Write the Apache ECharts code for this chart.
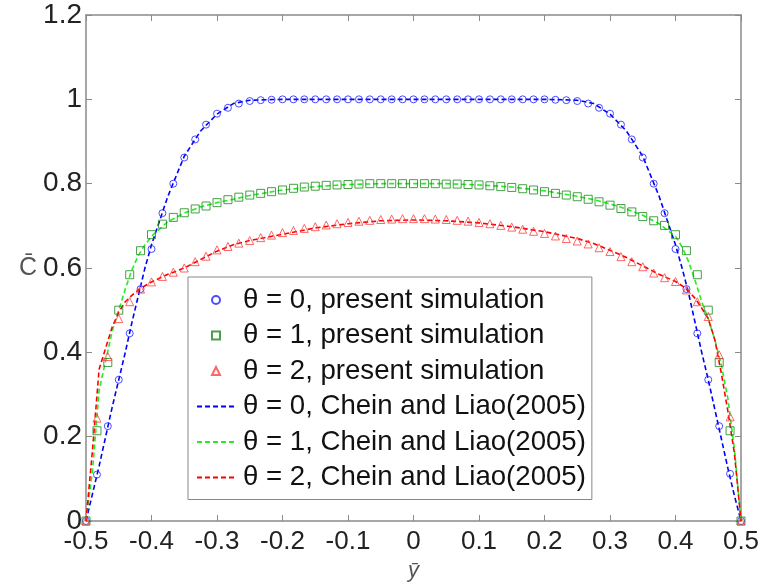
<!DOCTYPE html>
<html>
<head>
<meta charset="utf-8">
<script src="https://cdn.jsdelivr.net/npm/echarts@6/dist/echarts.min.js"></script>
<style>html,body{margin:0;padding:0;background:#fff}#c{width:763px;height:585px}</style>
</head>
<body>
<div id="c"></div>
<script>
// x positions of the simulation markers (y-bar)
var ySim = [-0.5,-0.4833,-0.4667,-0.45,-0.4333,-0.4167,-0.4,-0.3833,-0.3667,-0.35,
  -0.3333,-0.3167,-0.3,-0.2833,-0.2667,-0.25,-0.2333,-0.2167,-0.2,-0.1833,
  -0.1667,-0.15,-0.1333,-0.1167,-0.1,-0.0833,-0.0667,-0.05,-0.0333,-0.0167,
  0,0.0167,0.0333,0.05,0.0667,0.0833,0.1,0.1167,0.1333,0.15,
  0.1667,0.1833,0.2,0.2167,0.2333,0.25,0.2667,0.2833,0.3,0.3167,
  0.3333,0.35,0.3667,0.3833,0.4,0.4167,0.4333,0.45,0.4667,0.4833,0.5];
// present simulation, theta = 0, 1, 2
var sim0 = [0,0.11,0.225,0.335,0.445,0.55,0.645,0.73,0.80,0.862,
  0.905,0.94,0.966,0.98,0.99,0.996,0.998,0.999,1,1,
  1,1,1,1,1,1,1,1,1,1,
  1,1,1,1,1,1,1,1,1,1,
  1,1,1,0.999,0.998,0.996,0.99,0.98,0.966,0.94,
  0.905,0.862,0.80,0.73,0.645,0.55,0.445,0.335,0.225,0.112,0];
var sim1 = [0,0.214,0.376,0.50,0.584,0.641,0.679,0.704,0.72,0.731,
  0.740,0.747,0.755,0.762,0.768,0.773,0.777,0.781,0.785,0.789,
  0.792,0.794,0.796,0.797,0.798,0.799,0.800,0.800,0.800,0.800,
  0.800,0.800,0.800,0.799,0.799,0.798,0.797,0.795,0.793,0.791,
  0.788,0.785,0.781,0.777,0.773,0.769,0.763,0.757,0.749,0.741,
  0.733,0.722,0.712,0.701,0.679,0.641,0.584,0.50,0.376,0.214,0];
var sim2 = [0,0.244,0.39,0.48,0.52,0.55,0.567,0.58,0.59,0.60,
  0.615,0.628,0.643,0.651,0.659,0.665,0.672,0.678,0.684,0.689,
  0.694,0.698,0.702,0.705,0.708,0.711,0.713,0.715,0.716,0.717,
  0.717,0.717,0.716,0.715,0.713,0.711,0.708,0.705,0.701,0.697,
  0.692,0.687,0.682,0.676,0.670,0.664,0.657,0.648,0.639,0.627,
  0.615,0.603,0.588,0.577,0.568,0.548,0.52,0.485,0.394,0.247,0];
// Chein and Liao (2005) curves
var yRef = [-0.5,-0.49,-0.48,-0.47,-0.46,-0.45,-0.44,-0.43,-0.42,-0.41,-0.40,
  -0.375,-0.35,-0.325,-0.3,-0.275,-0.25,
  -0.2,-0.15,-0.1,-0.05,0,0.05,0.1,0.15,0.2,
  0.25,0.275,0.3,0.325,0.35,0.375,
  0.40,0.41,0.42,0.43,0.44,0.45,0.46,0.47,0.48,0.49,0.5];
var ref0 = [0,0.065,0.13,0.20,0.27,0.335,0.40,0.47,0.535,0.60,0.655,
  0.77,0.865,0.925,0.965,0.99,0.998,
  1,1,1,1,1,1,1,1,1,
  0.998,0.99,0.965,0.925,0.865,0.77,
  0.655,0.60,0.54,0.47,0.40,0.335,0.265,0.195,0.125,0.06,0];
var ref1 = [0,0.12,0.31,0.38,0.45,0.50,0.55,0.595,0.63,0.655,0.675,
  0.71,0.73,0.745,0.755,0.763,0.772,
  0.785,0.793,0.798,0.80,0.80,0.80,0.797,0.792,0.783,
  0.77,0.762,0.752,0.74,0.725,0.705,
  0.675,0.65,0.615,0.57,0.52,0.48,0.43,0.37,0.29,0.17,0];
var ref2 = [0,0.17,0.36,0.41,0.46,0.495,0.52,0.535,0.548,0.558,0.567,
  0.585,0.60,0.62,0.64,0.655,0.665,
  0.68,0.695,0.705,0.712,0.714,0.712,0.707,0.698,0.686,
  0.67,0.658,0.642,0.625,0.605,0.585,
  0.568,0.558,0.545,0.528,0.505,0.48,0.43,0.35,0.26,0.16,0];
var names = ['θ = 0, present simulation','θ = 1, present simulation','θ = 2, present simulation',
  'θ = 0, Chein and Liao(2005)','θ = 1, Chein and Liao(2005)','θ = 2, Chein and Liao(2005)'];

function pairs(xs, vs){ return xs.map(function(x,i){ return [x, vs[i]]; }); }

var font = '"Liberation Sans", Arial, sans-serif';
var axisGray = '#8a8a8a';
var chart = echarts.init(document.getElementById('c'), null, {renderer:'canvas'});
function baseAxis(extra){
  var a = {
    type:'value',
    axisLine:{show:true, onZero:false, lineStyle:{color:axisGray, width:1.5}},
    axisTick:{show:true, inside:true, length:6, lineStyle:{color:axisGray, width:1}},
    splitLine:{show:false}
  };
  for (var k in extra) a[k] = extra[k];
  return a;
}
var option = {
  animation:false,
  backgroundColor:'#fff',
  grid:{left:86, right:22, top:15, bottom:64, containLabel:false, outerBoundsMode:'none'},
  xAxis:[
    baseAxis({position:'bottom', min:-0.5, max:0.5, interval:0.1,
      axisLabel:{show:true, margin:8, fontSize:26, color:'#222', fontFamily:font},
      name:'ȳ', nameLocation:'middle', nameGap:31,
      nameTextStyle:{fontSize:22, color:'#555', fontFamily:font, fontStyle:'italic'}}),
    baseAxis({position:'top', min:-0.5, max:0.5, interval:0.1, axisLabel:{show:false}})
  ],
  yAxis:[
    baseAxis({position:'left', min:0, max:1.2, interval:0.2,
      axisLabel:{show:true, margin:4, fontSize:28, color:'#222', fontFamily:font},
      name:'C\u0304', nameLocation:'middle', nameRotate:0, nameGap:44,
      nameTextStyle:{fontSize:25, color:'#555', fontFamily:font}}),
    baseAxis({position:'right', min:0, max:1.2, interval:0.2, axisLabel:{show:false}})
  ],
  legend:{
    orient:'vertical', left:188, top:277,
    backgroundColor:'#fff', borderColor:'#888', borderWidth:1,
    padding:[9,6,8,8], itemWidth:38, itemHeight:8, itemGap:7.5,
    textStyle:{fontSize:27.6, color:'#111', fontFamily:font, padding:[0,0,0,3]},
    data:[
      {name:names[0], icon:'circle'},
      {name:names[1], icon:'path://M0,0L10,0L10,10L0,10Z'},
      {name:names[2], icon:'path://M5,0L10,10L0,10Z'},
      {name:names[3], itemStyle:{opacity:0}},
      {name:names[4], itemStyle:{opacity:0}},
      {name:names[5], itemStyle:{opacity:0}}
    ]
  },
  series:[
    {name:names[3], type:'line', data:pairs(yRef, ref0), symbol:'none', z:2,
      lineStyle:{color:'#0000ff', width:1.6, type:[5,3]}, itemStyle:{color:'#0000ff'}},
    {name:names[4], type:'line', data:pairs(yRef, ref1), symbol:'none', z:2,
      lineStyle:{color:'#22ee22', width:1.6, type:[5,3]}, itemStyle:{color:'#22ee22'}},
    {name:names[5], type:'line', data:pairs(yRef, ref2), symbol:'none', z:2,
      lineStyle:{color:'#ff0000', width:1.6, type:[5,3]}, itemStyle:{color:'#ff0000'}},
    {name:names[0], type:'scatter', data:pairs(ySim, sim0), symbol:'circle', symbolSize:7, z:3,
      itemStyle:{color:'rgba(0,0,0,0)', borderColor:'#2020ff', borderWidth:1}},
    {name:names[1], type:'scatter', data:pairs(ySim, sim1), symbol:'rect', symbolSize:8, z:3,
      itemStyle:{color:'rgba(0,0,0,0)', borderColor:'#1a8a1a', borderWidth:1}},
    {name:names[2], type:'scatter', data:pairs(ySim, sim2), symbol:'triangle', symbolSize:8, z:3,
      itemStyle:{color:'rgba(0,0,0,0)', borderColor:'#ff4040', borderWidth:1}}
  ]
};
chart.setOption(option);
</script>
</body>
</html>
